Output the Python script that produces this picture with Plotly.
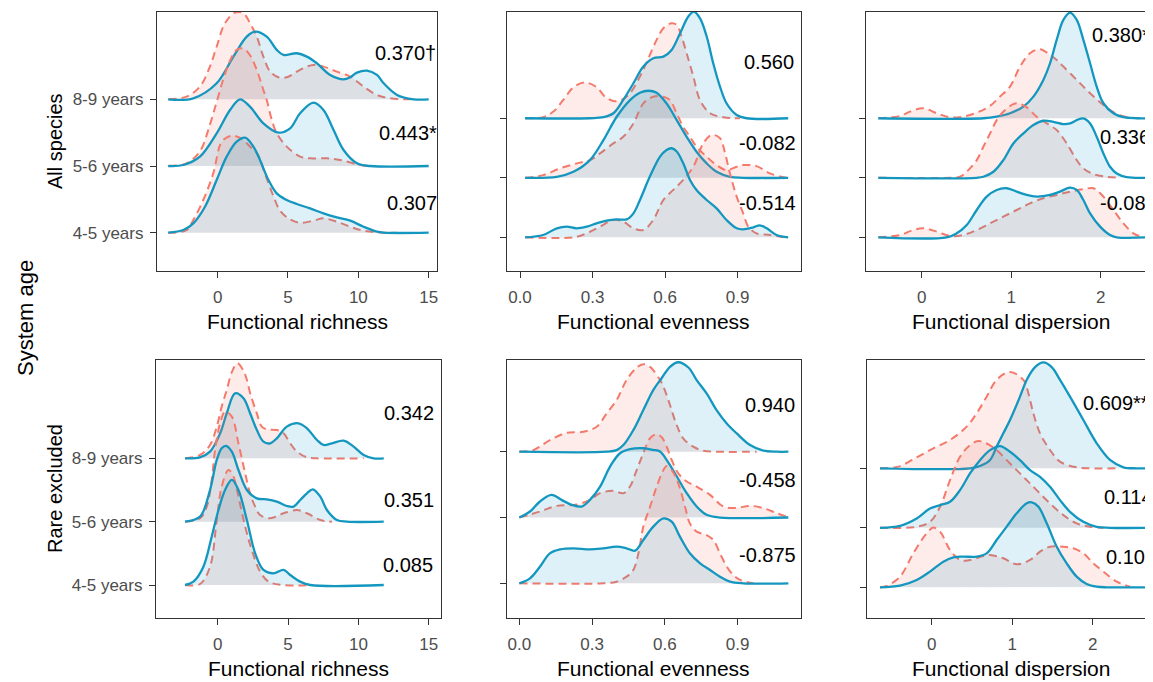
import plotly.graph_objects as go

W, H = 1153, 682
OFF = 8  # default page margin of the written html

# ---------------- data (x value, ridge height in units of ridge spacing) ----------------
AGES = ["4-5 years", "5-6 years", "8-9 years"]
ROW_LABELS = ["All species", "Rare excluded"]
METRICS = ["Functional richness", "Functional evenness", "Functional dispersion"]

# Functional richness - all species
RICH_ALL_89_BLUE = [(-3.51,0),(-1.73,.015),(-0.07,.24),(1.12,.64),(2.07,.94),(2.66,1.015),(3.49,.94),(4.20,.74),(4.68,.665),(5.63,.69),(6.34,.64),(7.05,.54),(8.00,.365),(8.95,.30),(9.42,.33),(9.90,.40),(10.61,.43),(11.32,.365),(11.80,.24),(12.75,.065),(13.93,0),(15.0,0)]
RICH_ALL_89_RED = [(-3.51,0),(-2.21,.04),(-1.26,.19),(-0.55,.49),(-0.07,.79),(0.52,1.14),(1.23,1.30),(1.83,1.29),(2.30,1.14),(2.78,.94),(3.25,.64),(3.73,.415),(4.32,.33),(4.91,.33),(5.63,.415),(6.34,.49),(6.81,.515),(7.52,.49),(8.47,.415),(9.42,.34),(10.37,.19),(11.32,.065),(12.27,.015),(13.70,0)]
RICH_ALL_56_BLUE = [(-3.51,0),(-2.44,.015),(-1.26,.14),(-0.07,.49),(0.88,.84),(1.59,1.0),(2.30,.89),(3.25,.64),(4.32,.5),(5.15,.565),(5.86,.79),(6.81,.95),(7.52,.84),(8.24,.54),(8.95,.24),(9.90,.04),(10.85,0),(15.0,0)]
RICH_ALL_56_RED = [(-3.51,0),(-2.21,.04),(-1.26,.22),(-0.55,.62),(-0.07,.96),(0.40,1.30),(0.88,1.58),(1.35,1.74),(1.83,1.76),(2.30,1.66),(2.78,1.44),(3.25,1.14),(3.49,.99),(3.85,.69),(4.20,.49),(4.91,.29),(5.86,.14),(6.57,.115),(7.76,.115),(8.71,.09),(10.14,.015),(10.85,0)]
RICH_ALL_45_BLUE = [(-3.51,0),(-2.44,.04),(-1.73,.14),(-0.90,.39),(-0.07,.79),(0.64,1.14),(1.35,1.365),(1.95,1.425),(2.54,1.29),(3.01,1.09),(3.61,.79),(4.20,.59),(4.91,.49),(5.63,.43),(6.57,.365),(7.52,.29),(8.47,.23),(9.42,.18),(10.37,.09),(11.32,.015),(11.80,0),(15.0,0)]
RICH_ALL_45_RED = [(-3.51,0),(-2.21,.04),(-1.73,.19),(-1.02,.49),(-0.31,.89),(0.28,1.36),(0.88,1.45),(1.23,1.45),(1.83,1.39),(2.30,1.29),(2.78,1.2),(3.37,.88),(3.96,.55),(4.44,.33),(5.15,.2),(5.86,.15),(6.81,.18),(7.52,.215),(8.47,.165),(9.42,.09),(10.37,.03),(11.80,0),(12.75,0)]

# Functional evenness - all species
EVEN_ALL_89_BLUE = [(0.021,0),(0.289,0),(0.345,.017),(0.386,.084),(0.427,.308),(0.469,.588),(0.510,.868),(0.551,1.008),(0.593,1.036),(0.627,1.148),(0.662,1.429),(0.696,1.709),(0.719,1.793),(0.744,1.681),(0.772,1.373),(0.799,.924),(0.827,.532),(0.854,.252),(0.896,.056),(0.937,0),(1.109,0)]
EVEN_ALL_89_RED = [(0.021,0),(0.096,.017),(0.138,.112),(0.179,.308),(0.221,.521),(0.269,.600),(0.317,.521),(0.351,.364),(0.386,.291),(0.420,.308),(0.455,.420),(0.496,.700),(0.531,1.008),(0.565,1.317),(0.593,1.513),(0.627,1.597),(0.648,1.569),(0.668,1.373),(0.689,1.092),(0.717,.700),(0.744,.308),(0.786,.084),(0.841,.017),(0.910,0)]
EVEN_ALL_56_BLUE = [(0.021,0),(0.152,.017),(0.221,.101),(0.289,.297),(0.345,.633),(0.400,1.025),(0.455,1.305),(0.496,1.429),(0.531,1.462),(0.565,1.429),(0.606,1.249),(0.648,.969),(0.689,.689),(0.730,.437),(0.772,.241),(0.813,.101),(0.868,.017),(0.923,0),(1.109,0)]
EVEN_ALL_56_RED = [(0.021,0),(0.096,.045),(0.165,.157),(0.234,.241),(0.289,.297),(0.331,.409),(0.386,.577),(0.427,.689),(0.469,.913),(0.510,1.249),(0.551,1.361),(0.593,1.361),(0.620,1.305),(0.648,1.081),(0.675,.857),(0.703,.689),(0.730,.521),(0.772,.353),(0.813,.213),(0.854,.129),(0.896,.185),(0.923,.213),(0.978,.196),(1.034,.073),(1.089,.011),(1.109,0)]
EVEN_ALL_45_BLUE = [(0.021,0),(0.096,.039),(0.152,.151),(0.193,.179),(0.234,.151),(0.276,.179),(0.317,.235),(0.358,.280),(0.400,.302),(0.441,.302),(0.469,.403),(0.496,.627),(0.537,1.020),(0.579,1.356),(0.606,1.468),(0.627,1.496),(0.648,1.440),(0.675,1.244),(0.703,.964),(0.730,.795),(0.772,.627),(0.813,.487),(0.854,.291),(0.896,.151),(0.923,.134),(0.965,.168),(0.992,.202),(1.020,.151),(1.061,.039),(1.109,0)]
EVEN_ALL_45_RED = [(0.021,0),(0.221,0),(0.276,.067),(0.331,.179),(0.386,.291),(0.427,.263),(0.469,.151),(0.510,.123),(0.551,.291),(0.593,.628),(0.634,.796),(0.675,.964),(0.717,1.188),(0.758,1.580),(0.792,1.720),(0.827,1.664),(0.848,1.412),(0.868,1.076),(0.896,.684),(0.923,.403),(0.944,.179),(0.978,.067),(1.034,.039),(1.089,0)]

# Functional dispersion - all species
DISP_ALL_89_BLUE = [(-0.484,0),(0.689,0),(0.838,.028),(0.987,.084),(1.136,.196),(1.248,.364),(1.359,.644),(1.434,.924),(1.508,1.317),(1.583,1.653),(1.657,1.776),(1.732,1.653),(1.806,1.317),(1.881,.924),(1.955,.532),(2.030,.252),(2.142,.084),(2.253,.017),(2.402,0),(2.533,0)]
DISP_ALL_89_RED = [(-0.484,0),(-0.242,.039),(-0.130,.112),(0.019,.168),(0.168,.084),(0.317,.017),(0.466,.028),(0.615,.095),(0.764,.207),(0.875,.364),(0.987,.532),(1.099,.868),(1.210,1.092),(1.322,1.160),(1.434,1.064),(1.508,.980),(1.583,.868),(1.732,.644),(1.881,.420),(2.030,.224),(2.179,.073),(2.328,.011),(2.477,0)]
DISP_ALL_56_BLUE = [(-0.484,0),(0.615,0),(0.689,.017),(0.801,.101),(0.912,.297),(1.024,.577),(1.136,.745),(1.248,.885),(1.359,.958),(1.471,.941),(1.583,.902),(1.657,.913),(1.732,.969),(1.806,.997),(1.881,.913),(1.955,.689),(2.030,.409),(2.104,.185),(2.179,.073),(2.291,.011),(2.533,0)]
DISP_ALL_56_RED = [(-0.484,0),(0.317,0),(0.428,.017),(0.521,.129),(0.615,.297),(0.689,.521),(0.764,.745),(0.838,.969),(0.912,1.109),(1.024,1.238),(1.080,1.249),(1.173,1.182),(1.285,1.025),(1.397,.913),(1.508,.801),(1.620,.577),(1.732,.297),(1.806,.157),(1.918,.062),(2.067,.017),(2.216,0)]
DISP_ALL_45_BLUE = [(-0.484,0),(0.279,0),(0.391,.067),(0.503,.207),(0.615,.459),(0.726,.683),(0.838,.795),(0.950,.824),(1.061,.768),(1.173,.711),(1.285,.683),(1.434,.711),(1.546,.768),(1.657,.835),(1.732,.796),(1.806,.627),(1.881,.403),(1.993,.179),(2.104,.039),(2.179,0),(2.533,0)]
DISP_ALL_45_RED = [(-0.484,0),(-0.242,.039),(-0.093,.123),(0.019,.151),(0.168,.095),(0.317,.022),(0.466,.039),(0.615,.123),(0.764,.235),(0.912,.347),(1.061,.459),(1.210,.571),(1.359,.655),(1.508,.711),(1.657,.767),(1.806,.807),(1.918,.824),(2.030,.683),(2.142,.459),(2.253,.235),(2.365,.067),(2.477,0)]

# Functional richness - rare excluded
RICH_RARE_89_BLUE = [(-2.33,0),(-1.26,.016),(-0.55,.105),(0.17,.395),(0.64,.711),(1.23,1.026),(1.83,.947),(2.30,.711),(2.78,.447),(3.25,.263),(3.73,.237),(4.20,.316),(4.91,.5),(5.74,.553),(6.34,.474),(7.05,.289),(7.52,.211),(8.12,.237),(8.95,.279),(9.66,.184),(10.37,.053),(11.08,0),(11.80,0)]
RICH_RARE_89_RED = [(-2.33,0),(-1.26,.053),(-0.55,.211),(-0.07,.5),(0.28,.816),(0.64,1.08),(1.00,1.36),(1.40,1.50),(1.83,1.38),(2.07,1.24),(2.30,1.03),(2.78,.71),(3.13,.5),(3.49,.458),(4.20,.447),(4.68,.395),(5.15,.237),(5.63,.105),(6.34,.016),(7.05,0),(10.37,0)]
RICH_RARE_56_BLUE = [(-2.33,0),(-1.26,.079),(-0.55,.5),(-0.07,.974),(0.28,1.158),(0.59,1.195),(1.00,1.105),(1.47,.816),(2.07,.5),(2.78,.368),(3.49,.353),(4.20,.316),(4.91,.247),(5.39,.237),(5.86,.342),(6.34,.447),(6.76,.511),(7.29,.395),(7.76,.184),(8.47,.026),(9.19,0),(11.80,0)]
RICH_RARE_56_RED = [(-2.33,0),(-1.26,.053),(-0.78,.237),(-0.43,.658),(-0.19,1.132),(0.17,1.553),(0.52,1.737),(1.00,1.658),(1.47,1.237),(1.95,.763),(2.30,.447),(2.66,.237),(3.01,.105),(3.73,.053),(4.68,.132),(5.63,.184),(6.34,.132),(7.29,.026),(8.12,0)]
RICH_RARE_45_BLUE = [(-2.33,0),(-1.73,.053),(-1.02,.289),(-0.43,.763),(0.05,1.184),(0.52,1.5),(1.00,1.658),(1.47,1.5),(2.07,1.026),(2.66,.5),(3.25,.237),(3.96,.184),(4.68,.237),(5.15,.158),(5.86,.053),(6.57,0),(11.80,0)]
RICH_RARE_45_RED = [(-2.33,0),(-1.26,.016),(-0.55,.289),(-0.07,1.026),(0.28,1.553),(0.76,1.816),(1.12,1.711),(1.47,1.395),(1.95,.921),(2.42,.553),(3.01,.211),(3.61,.053),(4.68,0),(6.57,0)]

# Functional evenness - rare excluded
EVEN_RARE_89_BLUE = [(0,0),(0.360,0),(0.401,.025),(0.429,.101),(0.470,.329),(0.511,.633),(0.552,.937),(0.587,1.12),(0.621,1.29),(0.655,1.36),(0.697,1.28),(0.731,1.089),(0.772,.886),(0.813,.633),(0.855,.43),(0.896,.278),(0.951,.101),(1.006,.015),(1.061,0),(1.109,0)]
EVEN_RARE_89_RED = [(0,0),(0.058,.025),(0.126,.177),(0.195,.288),(0.264,.304),(0.319,.380),(0.360,.582),(0.401,.785),(0.442,1.089),(0.484,1.28),(0.511,1.33),(0.539,1.29),(0.580,1.089),(0.594,.99),(0.621,.71),(0.649,.40),(0.676,.20),(0.717,.076),(0.758,.015),(0.813,0),(0.978,0)]
EVEN_RARE_56_BLUE = [(0,0),(0.044,.091),(0.085,.243),(0.133,.344),(0.174,.268),(0.216,.192),(0.257,.167),(0.291,.268),(0.333,.471),(0.374,.775),(0.415,.977),(0.456,1.038),(0.511,1.053),(0.552,1.028),(0.580,1.003),(0.607,.876),(0.649,.623),(0.690,.370),(0.731,.167),(0.772,.041),(0.827,0),(1.109,0)]
EVEN_RARE_56_RED = [(0,0),(0.085,.091),(0.154,.177),(0.236,.197),(0.291,.268),(0.333,.370),(0.387,.405),(0.429,.370),(0.456,.471),(0.484,.724),(0.511,.977),(0.539,1.205),(0.566,1.266),(0.587,1.220),(0.607,1.079),(0.628,.876),(0.655,.673),(0.690,.547),(0.731,.471),(0.786,.344),(0.841,.167),(0.896,.147),(0.951,.177),(1.006,.142),(1.061,.066),(1.109,.005)]
EVEN_RARE_45_BLUE = [(0,0),(0.044,.076),(0.085,.253),(0.126,.456),(0.168,.516),(0.223,.532),(0.291,.516),(0.346,.532),(0.401,.557),(0.442,.532),(0.477,.496),(0.511,.658),(0.552,.861),(0.594,.987),(0.628,.937),(0.662,.709),(0.703,.456),(0.745,.304),(0.786,.203),(0.827,.101),(0.868,.025),(0.923,0),(1.109,0)]
EVEN_RARE_45_RED = [(0,0),(0.346,0),(0.401,.025),(0.442,.101),(0.470,.203),(0.491,.456),(0.511,.861),(0.539,1.165),(0.566,1.468),(0.594,1.722),(0.607,1.782),(0.628,1.722),(0.655,1.519),(0.683,1.165),(0.703,.911),(0.731,.785),(0.772,.734),(0.800,.658),(0.827,.456),(0.855,.253),(0.882,.127),(0.910,.051),(0.965,0)]

# Functional dispersion - rare excluded
DISP_RARE_89_BLUE = [(-0.642,0),(0.476,0),(0.600,.039),(0.725,.14),(0.807,.364),(0.890,.588),(0.973,.812),(1.097,1.204),(1.180,1.485),(1.284,1.70),(1.387,1.78),(1.491,1.70),(1.594,1.485),(1.718,1.204),(1.884,.812),(2.050,.42),(2.215,.14),(2.381,.017),(2.547,0),(2.692,0)]
DISP_RARE_89_RED = [(-0.642,0),(-0.414,.028),(-0.186,.185),(0.021,.336),(0.228,.476),(0.435,.700),(0.559,.924),(0.683,1.204),(0.807,1.485),(0.973,1.62),(1.139,1.485),(1.201,1.261),(1.263,.924),(1.346,.588),(1.470,.308),(1.594,.112),(1.801,.017),(1.967,0),(2.298,0)]
DISP_RARE_56_BLUE = [(-0.642,0),(-0.393,.034),(-0.186,.157),(-0.021,.325),(0.104,.381),(0.228,.437),(0.352,.633),(0.476,.913),(0.600,1.137),(0.725,1.305),(0.849,1.373),(0.973,1.277),(1.097,1.137),(1.222,.969),(1.346,.857),(1.470,.689),(1.594,.465),(1.718,.269),(1.884,.101),(2.050,.017),(2.215,0),(2.692,0)]
DISP_RARE_56_RED = [(-0.642,0),(-0.186,.017),(-0.021,.101),(0.104,.353),(0.228,.801),(0.352,1.193),(0.476,1.389),(0.580,1.457),(0.683,1.417),(0.807,1.305),(0.932,1.137),(1.056,.969),(1.180,.801),(1.304,.633),(1.470,.409),(1.636,.213),(1.801,.073),(1.967,.017),(2.133,0)]
DISP_RARE_45_BLUE = [(-0.642,0),(-0.393,.028),(-0.186,.123),(-0.021,.263),(0.145,.431),(0.269,.504),(0.393,.515),(0.559,.515),(0.683,.571),(0.807,.795),(0.932,1.02),(1.056,1.244),(1.180,1.412),(1.242,1.429),(1.325,1.356),(1.429,1.076),(1.553,.683),(1.677,.403),(1.801,.179),(1.925,.056),(2.050,.011),(2.174,0),(2.692,0)]
DISP_RARE_45_RED = [(-0.642,0),(-0.559,.022),(-0.393,.179),(-0.228,.571),(-0.062,.908),(0.021,1.003),(0.104,.936),(0.228,.627),(0.352,.459),(0.476,.459),(0.642,.527),(0.725,.543),(0.890,.487),(1.056,.387),(1.222,.459),(1.346,.599),(1.470,.683),(1.636,.683),(1.760,.655),(1.884,.571),(2.008,.403),(2.133,.263),(2.298,.095),(2.464,.011)]

# Correlation labels (order: 4-5, 5-6, 8-9 years)
STATS_RICH_ALL = ["0.307", "0.443*", "0.370†"]
STATS_EVEN_ALL = ["-0.514", "-0.082", "0.560"]
STATS_DISP_ALL = ["-0.088", "0.336*", "0.380**"]
STATS_RICH_RARE = ["0.085", "0.351", "0.342"]
STATS_EVEN_RARE = ["-0.875", "-0.458", "0.940"]
STATS_DISP_RARE = ["0.107", "0.114", "0.609***"]

RICH_TICKS = [0, 5, 10, 15]
EVEN_TICKS = [0.0, 0.3, 0.6, 0.9]
DISP_TICKS = [0, 1, 2]

# ---------------- styling / layout ----------------
FONT = "Liberation Sans, Arial, sans-serif"
BLUE_LINE = "#1497BF"
RED_LINE = "#F47A6C"
BLUE_FILL = "rgba(0,150,200,0.13)"
RED_FILL = "rgba(244,118,107,0.14)"
AX_COL = "#333333"
TICK_TXT = "#4D4D4D"

FW, FH = W - OFF, H - OFF


def px_x(p):
    return (p - OFF) / FW


def px_y(p):
    return 1 - (p - OFF) / FH


panels = [
    dict(curves=[(RICH_ALL_45_RED, RICH_ALL_45_BLUE), (RICH_ALL_56_RED, RICH_ALL_56_BLUE), (RICH_ALL_89_RED, RICH_ALL_89_BLUE)],
         stats=STATS_RICH_ALL, ticks=RICH_TICKS, tickfmt=str,
         xpx=(157, 437), ypx=(11.7, 271), xr=[-4.31, 15.59], yr=[0.426, 4.313],
         lab=[(385, 203.3), (377, 133.3), (373, 53.3)], ylabels=True, right=True),
    dict(curves=[(EVEN_ALL_45_RED, EVEN_ALL_45_BLUE), (EVEN_ALL_56_RED, EVEN_ALL_56_BLUE), (EVEN_ALL_89_RED, EVEN_ALL_89_BLUE)],
         stats=STATS_EVEN_ALL, ticks=EVEN_TICKS, tickfmt=lambda v: f"{v:.1f}",
         xpx=(506.7, 801), ypx=(11.7, 271), xr=[-0.055, 1.162], yr=[0.434, 4.79],
         lab=[(737.3, 203.3), (737.3, 143.3), (741.7, 61.7)], ylabels=False, right=True),
    dict(curves=[(DISP_ALL_45_RED, DISP_ALL_45_BLUE), (DISP_ALL_56_RED, DISP_ALL_56_BLUE), (DISP_ALL_89_RED, DISP_ALL_89_BLUE)],
         stats=STATS_DISP_ALL, ticks=DISP_TICKS, tickfmt=str,
         xpx=(866, 1153), ypx=(11.7, 271), xr=[-0.622, 2.584], yr=[0.434, 4.79],
         lab=[(1098, 203.3), (1098, 136.7), (1090, 35)], ylabels=False, right=False),
    dict(curves=[(RICH_RARE_45_RED, RICH_RARE_45_BLUE), (RICH_RARE_56_RED, RICH_RARE_56_BLUE), (RICH_RARE_89_RED, RICH_RARE_89_BLUE)],
         stats=STATS_RICH_RARE, ticks=RICH_TICKS, tickfmt=str,
         xpx=(156, 441), ypx=(360, 618), xr=[-4.39, 15.87], yr=[0.479, 4.552],
         lab=[(381, 565), (382, 500), (381.7, 413.3)], ylabels=True, right=True),
    dict(curves=[(EVEN_RARE_45_RED, EVEN_RARE_45_BLUE), (EVEN_RARE_56_RED, EVEN_RARE_56_BLUE), (EVEN_RARE_89_RED, EVEN_RARE_89_BLUE)],
         stats=STATS_EVEN_RARE, ticks=EVEN_TICKS, tickfmt=lambda v: f"{v:.1f}",
         xpx=(506.7, 801), ypx=(360, 618), xr=[-0.052, 1.161], yr=[0.473, 4.394],
         lab=[(737.3, 555), (737.3, 480), (743.3, 405)], ylabels=False, right=True),
    dict(curves=[(DISP_RARE_45_RED, DISP_RARE_45_BLUE), (DISP_RARE_56_RED, DISP_RARE_56_BLUE), (DISP_RARE_89_RED, DISP_RARE_89_BLUE)],
         stats=STATS_DISP_RARE, ticks=DISP_TICKS, tickfmt=str,
         xpx=(866.7, 1153), ypx=(360, 618), xr=[-0.807, 2.749], yr=[0.484, 4.82],
         lab=[(1104, 556.7), (1101.7, 496.7), (1081, 403.3)], ylabels=False, right=False),
]

fig = go.Figure()
layout = dict(width=FW, height=FH, margin=dict(l=0, r=0, t=0, b=0), showlegend=False,
              paper_bgcolor="white", plot_bgcolor="white",
              font=dict(family=FONT, color="black"))
annotations = []

for k, p in enumerate(panels, start=1):
    xa = "x" if k == 1 else f"x{k}"
    ya = "y" if k == 1 else f"y{k}"
    # ridges drawn from top (8-9) to bottom (4-5)
    for level in [3, 2, 1]:
        red, blue = p["curves"][level - 1]
        for pts, lc, fc, dash, lw in [(red, RED_LINE, RED_FILL, "8px,5px", 2.0),
                                      (blue, BLUE_LINE, BLUE_FILL, "solid", 2.3)]:
            xs = [a for a, _ in pts]
            ys = [level + b for _, b in pts]
            fig.add_trace(go.Scatter(x=xs, y=ys, xaxis=xa, yaxis=ya, mode="lines",
                                     line=dict(color=lc, width=lw, dash=dash, shape="spline", smoothing=1.0),
                                     fill="toself", fillcolor=fc, hoverinfo="skip"))
    x0, x1 = p["xpx"]
    y0, y1 = p["ypx"]
    layout["xaxis" if k == 1 else f"xaxis{k}"] = dict(
        domain=[px_x(x0), min(1.0, px_x(x1))], range=p["xr"], anchor=ya,
        showgrid=False, zeroline=False, showline=True, mirror=True,
        linecolor=AX_COL, linewidth=1.2, ticks="outside", ticklen=6, tickwidth=1.2,
        tickcolor=AX_COL, tickvals=p["ticks"], ticktext=[p["tickfmt"](v) for v in p["ticks"]],
        tickfont=dict(size=17, color=TICK_TXT, family=FONT), ticklabelstandoff=4)
    layout["yaxis" if k == 1 else f"yaxis{k}"] = dict(
        domain=[px_y(y1), px_y(y0)], range=p["yr"], anchor=xa,
        showgrid=False, zeroline=False, showline=True, mirror=p["right"],
        linecolor=AX_COL, linewidth=1.2, ticks="outside", ticklen=6, tickwidth=1.2,
        tickcolor=AX_COL, tickvals=[1, 2, 3], ticktext=AGES,
        showticklabels=p["ylabels"],
        tickfont=dict(size=17, color=TICK_TXT, family=FONT), ticklabelstandoff=3)
    for txt, (lx, ly) in zip(p["stats"], p["lab"]):
        annotations.append(dict(text=txt, xref="paper", yref="paper", x=px_x(lx), y=px_y(ly),
                                xanchor="left", yanchor="middle", showarrow=False,
                                font=dict(size=20, color="black", family=FONT)))

# axis titles
for (cx, cy), name in zip([(297, 321.7), (653.9, 321.7), (1011, 321.7),
                           (298.5, 668.3), (653.9, 668.3), (1011, 668.3)], METRICS * 2):
    annotations.append(dict(text=name, xref="paper", yref="paper", x=px_x(cx), y=px_y(cy),
                            xanchor="center", yanchor="middle", showarrow=False,
                            font=dict(size=21, color="black", family=FONT)))
# row labels
for (cx, cy), name in zip([(55, 141), (55, 489)], ROW_LABELS):
    annotations.append(dict(text=name, xref="paper", yref="paper", x=px_x(cx), y=px_y(cy),
                            xanchor="center", yanchor="middle", showarrow=False, textangle=-90,
                            font=dict(size=20, color="black", family=FONT)))
annotations.append(dict(text="System age", xref="paper", yref="paper", x=px_x(25), y=px_y(318),
                        xanchor="center", yanchor="middle", showarrow=False, textangle=-90,
                        font=dict(size=22, color="black", family=FONT)))

layout["annotations"] = annotations
fig.update_layout(**layout)
fig.write_html("out.html")
